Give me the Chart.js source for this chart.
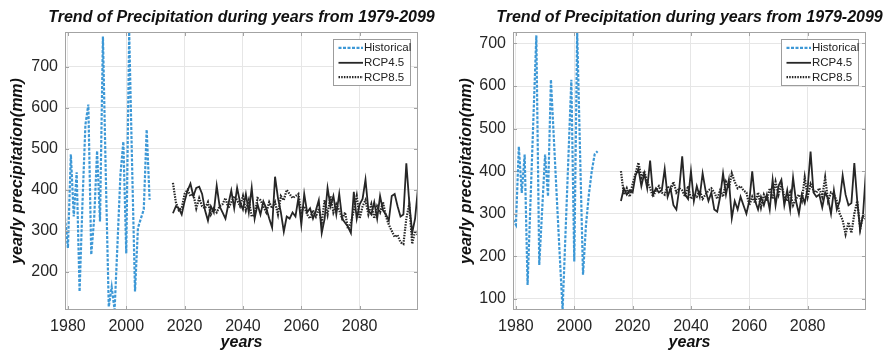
<!DOCTYPE html>
<html>
<head>
<meta charset="utf-8">
<script src="https://cdn.jsdelivr.net/npm/chart.js@4.4.0/dist/chart.umd.min.js"></script>
<style>
  html, body { margin: 0; padding: 0; background: #ffffff; }
  #wrap { position: relative; width: 886px; height: 351px; }
  #wrap canvas { position: absolute; top: 0; }
</style>
</head>
<body>
<div id="wrap">
  <canvas id="panelA" width="443" height="351" style="left:0px"></canvas>
  <canvas id="panelB" width="443" height="351" style="left:443px"></canvas>
</div>
<script>
// ---- text ----
const titleText = 'Trend of Precipitation during years from 1979-2099';
const yTitleText = 'yearly precipitation(mm)';
const xTitleText = 'years';
const seriesNames = ['Historical', 'RCP4.5', 'RCP8.5'];

// ---- categories (years) ----
const histYears = [1979, 1980, 1981, 1982, 1983, 1984, 1985, 1986, 1987, 1988,
                   1989, 1990, 1991, 1992, 1993, 1994, 1995, 1996, 1997, 1998,
                   1999, 2000, 2001, 2002, 2003, 2004, 2005, 2006, 2007, 2008];
const projYears = [2016, 2017, 2018, 2019, 2020, 2021, 2022, 2023, 2024, 2025,
                   2026, 2027, 2028, 2029, 2030, 2031, 2032, 2033, 2034, 2035,
                   2036, 2037, 2038, 2039, 2040, 2041, 2042, 2043, 2044, 2045,
                   2046, 2047, 2048, 2049, 2050, 2051, 2052, 2053, 2054, 2055,
                   2056, 2057, 2058, 2059, 2060, 2061, 2062, 2063, 2064, 2065,
                   2066, 2067, 2068, 2069, 2070, 2071, 2072, 2073, 2074, 2075,
                   2076, 2077, 2078, 2079, 2080, 2081, 2082, 2083, 2084, 2085,
                   2086, 2087, 2088, 2089, 2090, 2091, 2092, 2093, 2094, 2095,
                   2096, 2097, 2098, 2099, 2100];

// ---- tick labels ----
const xTickValues = [1980, 2000, 2020, 2040, 2060, 2080];
const yTickValuesA = [200, 300, 400, 500, 600, 700];
const yTickValuesB = [100, 200, 300, 400, 500, 600, 700];

// ---- station A (left panel), yearly precipitation in mm ----
const histA = [331, 258, 487, 335, 443, 152, 370, 559, 608, 242,
               330, 495, 323, 774, 430, 115, 163, 107, 270, 437,
               518, 245, 785, 460, 152, 307, 330, 352, 547, 376];
const rcp45A = [343, 360, 355, 340, 372, 398, 415, 385, 405, 408,
                390, 350, 325, 360, 345, 410, 360, 345, 330, 365,
                398, 355, 405, 370, 352, 390, 345, 405, 330, 365,
                340, 372, 355, 330, 308, 432, 380, 345, 298, 335,
                330, 345, 335, 380, 315, 390, 345, 355, 330, 350,
                375, 295, 330, 405, 360, 385, 340, 390, 330, 320,
                310, 295, 395, 330, 365, 378, 425, 350, 340, 370,
                330, 385, 350, 340, 325, 385, 390, 360, 335, 340,
                465, 370, 295, 330, 405];
const rcp85A = [417, 370, 350, 355, 390, 400, 385, 390, 355, 380,
                360, 355, 370, 340, 355, 345, 360, 365, 380, 355,
                370, 385, 375, 360, 385, 350, 375, 335, 340, 380,
                375, 360, 345, 370, 355, 370, 340, 385, 375, 400,
                390, 380, 385, 390, 345, 360, 340, 330, 350, 335,
                355, 320, 375, 340, 385, 345, 365, 350, 330, 345,
                305, 320, 350, 385, 330, 360, 375, 340, 365, 330,
                360, 345, 370, 335, 315, 300, 285, 290, 272, 268,
                330, 365, 268, 300, 290];

// ---- station B (right panel), yearly precipitation in mm ----
const histB = [286, 274, 458, 349, 439, 133, 330, 525, 719, 180,
               310, 439, 341, 615, 477, 340, 205, 74, 254, 434,
               615, 188, 727, 440, 157, 272, 345, 400, 440, 447];
const rcp45B = [330, 360, 345, 355, 350, 390, 405, 365, 395, 360,
                425, 345, 360, 350, 355, 405, 340, 360, 320, 310,
                360, 435, 345, 335, 400, 330, 365, 340, 395, 355,
                330, 350, 310, 305, 340, 395, 345, 380, 290, 330,
                310, 340, 320, 300, 330, 400, 330, 310, 340, 320,
                345, 310, 380, 320, 365, 380, 320, 355, 310, 385,
                330, 300, 345, 325, 360, 446, 350, 340, 345, 315,
                350, 335, 300, 355, 310, 330, 390, 345, 320, 325,
                419, 330, 262, 300, 403];
const rcp85B = [400, 345, 360, 340, 370, 395, 420, 385, 400, 375,
                360, 340, 355, 365, 350, 345, 365, 355, 375, 350,
                360, 355, 340, 365, 335, 345, 340, 355, 335, 345,
                355, 360, 350, 335, 355, 340, 375, 360, 395, 375,
                360, 365, 355, 350, 320, 340, 325, 350, 315, 345,
                330, 360, 335, 375, 345, 370, 340, 330, 350, 320,
                335, 345, 330, 385, 340, 370, 355, 350, 360, 340,
                385, 330, 350, 345, 330, 300, 285, 252, 280, 255,
                300, 330, 265, 295, 287];

// ---- styling ----
const FONT = '"Liberation Sans", Arial, Helvetica, sans-serif';
const HIST_COLOR = '#3d98d6';
const DARK = '#262626';
const GRID = '#e6e6e6';
const FRAME = '#a3a3a3';
const TICK_TEXT = '#262626';

const seriesStyles = [
  { color: HIST_COLOR, width: 2.2, dash: [3, 1.5] },
  { color: DARK, width: 1.8, dash: [] },
  { color: DARK, width: 2.2, dash: [1.5, 1.2] }
];

function toPoints(xs, ys) {
  return xs.map((x, i) => ({ x: x, y: ys[i] }));
}

// axes box, inward tick marks, in-axes legend and the centred title
const framePlugin = {
  id: 'matlabFrame',
  afterDatasetsDraw(chart) {
    const ctx = chart.ctx;
    const a = chart.chartArea;
    const xs = chart.scales.x;
    const ys = chart.scales.y;
    ctx.save();
    ctx.strokeStyle = FRAME;
    ctx.lineWidth = 1;
    ctx.setLineDash([]);
    ctx.strokeRect(Math.round(a.left) + 0.5, Math.round(a.top) + 0.5,
                   Math.round(a.right - a.left) - 1, Math.round(a.bottom - a.top) - 1);
    const tl = 4;
    ctx.beginPath();
    xs.ticks.forEach(t => {
      const px = Math.round(xs.getPixelForValue(t.value)) + 0.5;
      ctx.moveTo(px, a.bottom); ctx.lineTo(px, a.bottom - tl);
      ctx.moveTo(px, a.top); ctx.lineTo(px, a.top + tl);
    });
    ys.ticks.forEach(t => {
      const py = Math.round(ys.getPixelForValue(t.value)) + 0.5;
      ctx.moveTo(a.left, py); ctx.lineTo(a.left + tl, py);
      ctx.moveTo(a.right, py); ctx.lineTo(a.right - tl, py);
    });
    ctx.stroke();

    // legend
    const bw = 77, bh = 46;
    const bx = Math.round(a.right - 8.5 - bw) + 0.5;
    const by = Math.round(a.top + 7) + 0.5;
    ctx.fillStyle = '#ffffff';
    ctx.fillRect(bx, by, bw, bh);
    ctx.strokeStyle = '#9c9c9c';
    ctx.strokeRect(bx, by, bw, bh);
    const rows = [8.3, 23.3, 37.7];
    ctx.font = '11.5px ' + FONT;
    ctx.textBaseline = 'middle';
    ctx.textAlign = 'left';
    chart.data.datasets.forEach((ds, i) => {
      const yy = by + rows[i];
      ctx.beginPath();
      ctx.strokeStyle = ds.borderColor;
      ctx.lineWidth = ds.borderWidth;
      ctx.setLineDash(ds.borderDash || []);
      ctx.moveTo(bx + 5, yy);
      ctx.lineTo(bx + 29.5, yy);
      ctx.stroke();
      ctx.fillStyle = '#222222';
      ctx.fillText(ds.label, bx + 30.5, yy + 0.5);
    });

    // title
    ctx.setLineDash([]);
    ctx.fillStyle = '#111111';
    ctx.font = 'italic bold 16px ' + FONT;
    ctx.textAlign = 'center';
    ctx.textBaseline = 'middle';
    ctx.fillText(titleText, (a.left + a.right) / 2, 18);
    ctx.restore();
  }
};

function buildPanel(canvasId, hist, r45, r85, yMin, yMax, yTicks, yWidth, yTitlePad, rightPad) {
  const values = [hist, r45, r85];
  const years = [histYears, projYears, projYears];
  const datasets = values.map((v, i) => ({
    label: seriesNames[i],
    data: toPoints(years[i], v),
    borderColor: seriesStyles[i].color,
    borderWidth: seriesStyles[i].width,
    borderDash: seriesStyles[i].dash,
    pointRadius: 0,
    tension: 0,
    fill: false
  }));
  const tickFont = { family: FONT, size: 16 };
  const axisTitleFont = { family: FONT, size: 16, weight: 'bold', style: 'italic', lineHeight: 1 };
  return new Chart(document.getElementById(canvasId), {
    type: 'line',
    data: { datasets: datasets },
    options: {
      responsive: false,
      animation: false,
      devicePixelRatio: 1,
      layout: { padding: { top: 32, right: rightPad, left: 0, bottom: 0 } },
      plugins: {
        legend: { display: false },
        tooltip: { enabled: false },
        title: { display: false }
      },
      scales: {
        x: {
          type: 'linear',
          min: 1979,
          max: 2100,
          afterBuildTicks: s => { s.ticks = xTickValues.map(v => ({ value: v })); },
          afterFit: s => { s.height = 41; },
          grid: { color: GRID, drawTicks: false, lineWidth: 1 },
          border: { display: false },
          ticks: {
            padding: 7, color: TICK_TEXT, font: tickFont,
            maxRotation: 0, autoSkip: false,
            callback: v => String(v)
          },
          title: {
            display: true, text: xTitleText, color: '#111111',
            font: axisTitleFont, padding: { top: 0, bottom: 0 }
          }
        },
        y: {
          type: 'linear',
          min: yMin,
          max: yMax,
          afterBuildTicks: s => { s.ticks = yTicks.map(v => ({ value: v })); },
          afterFit: s => { s.width = yWidth; },
          grid: { color: GRID, drawTicks: false, lineWidth: 1 },
          border: { display: false },
          ticks: {
            padding: 7, color: TICK_TEXT, font: tickFont,
            autoSkip: false,
            callback: v => String(v)
          },
          title: {
            display: true, text: yTitleText, color: '#111111',
            font: axisTitleFont, padding: { top: yTitlePad, bottom: 0 }
          }
        }
      }
    },
    plugins: [framePlugin]
  });
}

buildPanel('panelA', histA, rcp45A, rcp85A, 107, 785, yTickValuesA, 65, 9.5, 25);
buildPanel('panelB', histB, rcp45B, rcp85B, 74, 727, yTickValuesB, 70, 15.3, 20);
</script>
</body>
</html>
